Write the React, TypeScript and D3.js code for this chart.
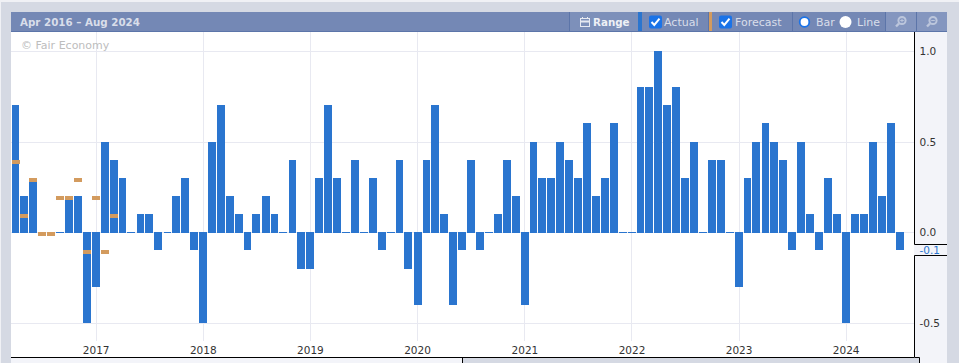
import React from "react";
import * as d3 from "d3";

const startYear = 2016;
const startMonth = 3;
const actual = [
  0.7, 0.2, 0.3, 0, 0, 0, 0.2, 0.2, -0.5,
  -0.3, 0.5, 0.4, 0.3, 0, 0.1, 0.1, -0.1, 0, 0.2, 0.3, -0.1,
  -0.5, 0.5, 0.7, 0.2, 0.1, -0.1, 0.1, 0.2, 0.1, 0, 0.4, -0.2,
  -0.2, 0.3, 0.7, 0.3, 0, 0.4, 0, 0.3, -0.1, 0, 0.4, -0.2,
  -0.4, 0.4, 0.7, 0.1, -0.4, -0.1, 0.4, -0.1, 0, 0.1, 0.4, 0.2,
  -0.4, 0.5, 0.3, 0.3, 0.5, 0.4, 0.3, 0.6, 0.2, 0.3, 0.6, 0,
  0, 0.8, 0.8, 1.0, 0.7, 0.8, 0.3, 0.5, 0, 0.4, 0.4, 0,
  -0.3, 0.3, 0.5, 0.6, 0.5, 0.4, -0.1, 0.5, 0.1, -0.1, 0.3, 0.1,
  -0.5, 0.1, 0.1, 0.5, 0.2, 0.6, -0.1,
];
const forecast = [0.4, 0.1, 0.3, 0, 0, 0.2, 0.2, 0.3, -0.1, 0.2, -0.1, 0.1];
const yearTicks = [2017, 2018, 2019, 2020, 2021, 2022, 2023, 2024];
const yTicks = [1.0, 0.5, 0.0, -0.5];
const lastValueLabel = "-0.1";
const titleText = "Apr 2016 – Aug 2024";
const watermark = "© Fair Economy";

const FONT = "'DejaVu Sans', Verdana, sans-serif";
const PANEL = "#d5d9e3";
const LIGHT = "#f3f4f9";
const HEADER = "#7488b5";
const HEADER_LIGHT = "#8496bf";
const HEADER_MID = "#7d90ba";
const SEP = "#5c75a9";
const GRID = "#e8e9f1";
const BLUE = "#2a75cf";
const ORANGE = "#d39b5e";
const HEADER_TEXT = "#d9deea";

const monthDate = (i: number) => new Date(Date.UTC(startYear, startMonth + i, 1));

const x = d3
  .scaleUtc()
  .domain([new Date(Date.UTC(2017, 0, 1)), new Date(Date.UTC(2024, 0, 1))])
  .range([96.2, 846.2]);
const y = d3.scaleLinear().domain([0, 1]).range([232.3, 50.8]);

const barLeft = (i: number) => Math.round(x(monthDate(i)) - 4);
const barWidth = (i: number) => Math.min(8, barLeft(i + 1) - barLeft(i) - 1);

function Check({ cx }: { cx: number }) {
  return (
    <g transform={`translate(${cx},22)`}>
      <rect x={-6.5} y={-6.5} width={13} height={13} rx={2} fill="#1a73e8" />
      <path d="M-4,0 L-1.2,3 L4,-3.4" fill="none" stroke="#fff" strokeWidth={2} />
    </g>
  );
}

function Magnifier({ cx, plus }: { cx: number; plus: boolean }) {
  return (
    <g transform={`translate(${cx},22)`} stroke="#bcc6dc" fill="none">
      <circle cx={1} cy={-1.5} r={3.6} strokeWidth={2} />
      <line x1={-2} y1={1.5} x2={-5} y2={4.5} strokeWidth={2.4} />
      {plus ? (
        <path d="M-0.8,-1.5 H2.8 M1,-3.3 V0.3" strokeWidth={1} />
      ) : (
        <path d="M-0.8,-1.5 H2.8" strokeWidth={1} />
      )}
    </g>
  );
}

export default function App() {
  const labelStyle = { fontFamily: FONT, fontSize: 10.5 };
  return (
    <svg
      width={959}
      height={363}
      style={{ position: "absolute", left: 0, top: 0, display: "block" }}
    >
      <rect width={959} height={363} fill={PANEL} />
      <rect width={959} height={2} fill="#f0f1f5" />
      <rect width={1} height={363} fill="#f0f1f5" />

      {/* plot + axis panels */}
      <rect x={11} y={32} width={903} height={325} fill="#fff" />
      <rect x={914} y={32} width={33} height={325} fill={LIGHT} />
      <rect x={11} y={357} width={451} height={6} fill={LIGHT} />
      <rect x={919} y={357} width={28} height={6} fill={LIGHT} />

      {/* grid */}
      {yTicks.map((t) => (
        <line key={t} x1={11} x2={914} y1={Math.round(y(t)) + 0.5} y2={Math.round(y(t)) + 0.5} stroke={GRID} />
      ))}
      {yearTicks.map((yr) => {
        const px = Math.floor(x(new Date(Date.UTC(yr, 0, 1)))) + 0.5;
        return <line key={yr} x1={px} x2={px} y1={32} y2={341} stroke={GRID} />;
      })}

      <text x={21} y={49} fill="#bdbdbd" style={{ fontFamily: FONT, fontSize: 11 }}>
        {watermark}
      </text>

      {/* actual */}
      {actual.map((v, i) => {
        const y0 = y(0);
        const top = v >= 0 ? Math.round(y(v)) : Math.round(y0);
        const bottom = v > 0 ? Math.round(y0) + 1 : v === 0 ? top + 1 : Math.round(y(v));
        return <rect key={i} x={barLeft(i)} y={top} width={barWidth(i)} height={bottom - top} fill={BLUE} />;
      })}

      {/* forecast */}
      {forecast.map((v, i) => (
        <rect key={i} x={barLeft(i)} y={Math.round(y(v))} width={8} height={4} fill={ORANGE} />
      ))}

      {/* x labels */}
      {yearTicks.map((yr) => (
        <text
          key={yr}
          x={x(new Date(Date.UTC(yr, 0, 1)))}
          y={354}
          textAnchor="middle"
          fill="#333"
          style={labelStyle}
        >
          {yr}
        </text>
      ))}

      {/* y labels */}
      {yTicks.map((t) => (
        <text key={t} x={919.5} y={y(t) + 4} fill="#333" style={labelStyle}>
          {d3.format(".1f")(t).replace("−", "-")}
        </text>
      ))}
      <text x={919.5} y={y(-0.1) + 4} fill={BLUE} style={labelStyle}>
        {lastValueLabel}
      </text>

      {/* axis frame */}
      <path
        d="M914.5,32 V244.5 H947 M947,255.5 H914.5 V357.5 H919.5 V363 M11,357.5 H914 M462.5,357 V363"
        fill="none"
        stroke="#000"
      />

      {/* header */}
      <rect x={11} y={12} width={936} height={20} fill={HEADER} />
      <rect x={11} y={31} width={936} height={1} fill={SEP} />
      <text x={20} y={26} fill={HEADER_TEXT} style={{ fontFamily: FONT, fontSize: 10.3, fontWeight: 600 }}>
        {titleText}
      </text>

      <rect x={569} y={12} width={69} height={19} fill={HEADER_MID} />
      <rect x={569} y={12} width={1} height={19} fill={SEP} />
      <g stroke="#e6e9f1" fill="none" transform="translate(580,17)">
        <rect x={0.5} y={1.5} width={9} height={8} />
        <line x1={0.5} x2={9.5} y1={4.5} y2={4.5} strokeWidth={2} />
        <path d="M2.5,0 V2 M7.5,0 V2" />
      </g>
      <text x={593} y={26} fill="#eef0f6" style={{ fontFamily: FONT, fontSize: 10.3, fontWeight: 600 }}>
        Range
      </text>

      <rect x={638} y={12} width={4} height={19} fill={BLUE} />
      <Check cx={655.5} />
      <text x={664} y={26} fill={HEADER_TEXT} style={{ fontFamily: FONT, fontSize: 11 }}>
        Actual
      </text>
      <rect x={708} y={12} width={1} height={19} fill={SEP} />
      <rect x={709} y={12} width={3} height={19} fill={ORANGE} />
      <Check cx={725.5} />
      <text x={735} y={26} fill={HEADER_TEXT} style={{ fontFamily: FONT, fontSize: 11 }}>
        Forecast
      </text>
      <rect x={792} y={12} width={1} height={19} fill={SEP} />
      <circle cx={804.5} cy={22} r={4.8} fill="#fff" stroke="#1a73e8" strokeWidth={1.8} />
      <text x={816} y={26} fill={HEADER_TEXT} style={{ fontFamily: FONT, fontSize: 11 }}>
        Bar
      </text>
      <circle cx={845.5} cy={22} r={6} fill="#fff" />
      <text x={857} y={26} fill={HEADER_TEXT} style={{ fontFamily: FONT, fontSize: 11 }}>
        Line
      </text>

      <rect x={885} y={12} width={62} height={19} fill={HEADER_LIGHT} />
      <rect x={885} y={12} width={1} height={19} fill={SEP} />
      <rect x={916} y={12} width={1} height={19} fill={SEP} />
      <Magnifier cx={901} plus />
      <Magnifier cx={932} plus={false} />
    </svg>
  );
}
